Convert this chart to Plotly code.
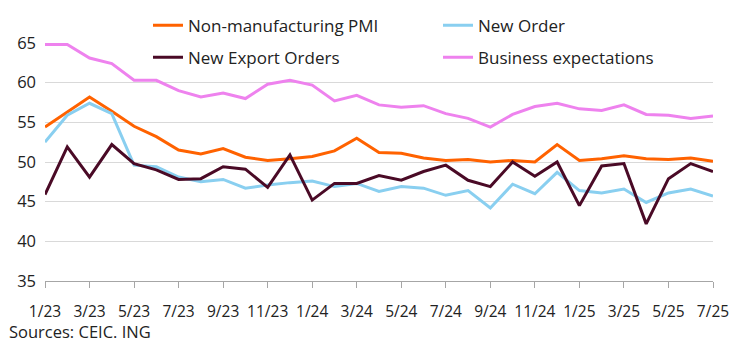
import plotly.graph_objects as go

months = ["1/23","2/23","3/23","4/23","5/23","6/23","7/23","8/23","9/23","10/23","11/23","12/23",
          "1/24","2/24","3/24","4/24","5/24","6/24","7/24","8/24","9/24","10/24","11/24","12/24",
          "1/25","2/25","3/25","4/25","5/25","6/25","7/25"]

non_manufacturing_pmi = [54.4, 56.3, 58.2, 56.4, 54.5, 53.2, 51.5, 51.0, 51.7, 50.6, 50.2, 50.4,
                         50.7, 51.4, 53.0, 51.2, 51.1, 50.5, 50.2, 50.3, 50.0, 50.2, 50.0, 52.2,
                         50.2, 50.4, 50.8, 50.4, 50.3, 50.5, 50.1]
new_order = [52.5, 55.9, 57.4, 56.1, 49.6, 49.4, 48.1, 47.5, 47.8, 46.7, 47.1, 47.4,
             47.6, 46.9, 47.3, 46.3, 46.9, 46.7, 45.8, 46.4, 44.2, 47.2, 46.0, 48.7,
             46.4, 46.1, 46.6, 44.9, 46.1, 46.6, 45.7]
new_export_orders = [45.9, 51.9, 48.1, 52.2, 49.8, 49.0, 47.8, 47.9, 49.4, 49.1, 46.8, 50.9,
                     45.2, 47.3, 47.3, 48.3, 47.7, 48.8, 49.6, 47.7, 46.9, 50.0, 48.2, 50.0,
                     44.5, 49.5, 49.8, 42.2, 47.9, 49.8, 48.8]
business_expectations = [64.8, 64.8, 63.1, 62.4, 60.3, 60.3, 59.0, 58.2, 58.7, 58.0, 59.8, 60.3,
                         59.7, 57.7, 58.4, 57.2, 56.9, 57.1, 56.1, 55.5, 54.4, 56.0, 57.0, 57.4,
                         56.7, 56.5, 57.2, 56.0, 55.9, 55.5, 55.8]

tick_vals = months[::2]
FONT = "Open Sans"
TXT = "#222222"

fig = go.Figure()
series = [
    ("Non-manufacturing PMI", non_manufacturing_pmi, "#FF6200", "legend"),
    ("New Order", new_order, "#89CFF0", "legend"),
    ("New Export Orders", new_export_orders, "#4A0A26", "legend2"),
    ("Business expectations", business_expectations, "#EE82EE", "legend2"),
]
for name, vals, color, leg in series:
    fig.add_trace(go.Scatter(x=months, y=vals, mode="lines", name=name,
                             line=dict(color=color, width=3), legend=leg))

legend_common = dict(orientation="h", xanchor="left", yanchor="middle",
                     font=dict(family=FONT, size=17, color=TXT),
                     bgcolor="rgba(0,0,0,0)", entrywidth=245, entrywidthmode="pixels",
                     itemwidth=30)

fig.update_layout(
    width=744, height=343,
    margin=dict(l=45, r=31, t=43, b=62, autoexpand=False),
    paper_bgcolor="white", plot_bgcolor="white",
    font=dict(family=FONT, size=16, color=TXT),
    showlegend=True,
    legend=dict(x=(148-45)/668, y=(280.7-26)/237.4, **legend_common),
    legend2=dict(x=(148-45)/668, y=(280.7-58)/237.4, **legend_common),
    xaxis=dict(range=[0, 30], tickmode="array", tickvals=tick_vals, ticktext=tick_vals,
               showgrid=False, showline=True, linecolor="#A6A6A6", linewidth=1,
               ticks="outside", ticklen=6, tickcolor="#A6A6A6", ticklabelstandoff=10,
               tickangle=0,
               tickfont=dict(family=FONT, size=15.5, color=TXT), fixedrange=True),
    yaxis=dict(range=[35, 65], dtick=5, showgrid=True, gridcolor="#D9D9D9", gridwidth=1,
               zeroline=False, showline=False, ticks="", ticklabelstandoff=8,
               tickfont=dict(family=FONT, size=16.5, color=TXT), fixedrange=True),
    annotations=[dict(text="Sources: CEIC. ING", xref="paper", yref="paper",
                      x=-38/668, y=(280.7-331)/237.4, xanchor="left", yanchor="middle",
                      showarrow=False, font=dict(family=FONT, size=16.5, color=TXT))],
)
fig.update_xaxes(type="category")

fig.write_html("out.html")
